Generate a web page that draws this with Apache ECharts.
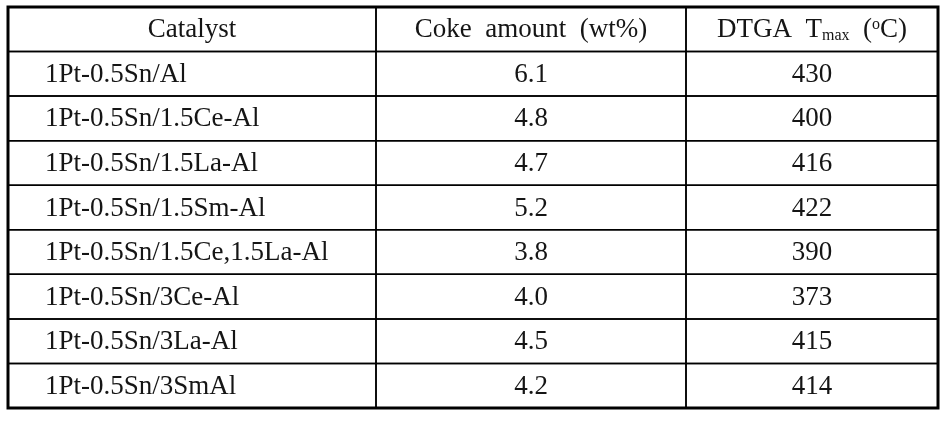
<!DOCTYPE html>
<html>
<head>
<meta charset="utf-8">
<script src="https://cdn.jsdelivr.net/npm/echarts@6/dist/echarts.min.js"></script>
<style>
html,body{margin:0;padding:0;background:#fff;}
#chart{width:952px;height:421px;}
</style>
</head>
<body>
<div id="chart"></div>
<script>
// ---- data ----
const headers = ['Catalyst', 'Coke amount (wt%)', 'DTGA Tmax (\u00B0C)'];
const catalysts = [
  '1Pt-0.5Sn/Al',
  '1Pt-0.5Sn/1.5Ce-Al',
  '1Pt-0.5Sn/1.5La-Al',
  '1Pt-0.5Sn/1.5Sm-Al',
  '1Pt-0.5Sn/1.5Ce,1.5La-Al',
  '1Pt-0.5Sn/3Ce-Al',
  '1Pt-0.5Sn/3La-Al',
  '1Pt-0.5Sn/3SmAl'
];
const cokeAmount = [6.1, 4.8, 4.7, 5.2, 3.8, 4.0, 4.5, 4.2];
const tmax = [430, 400, 416, 422, 390, 373, 415, 414];

// ---- layout ----
const colWidths = [368, 310, 252];
const FONT = '"Liberation Serif", "Times New Roman", serif';
const FS = 27;
const TEXT_COLOR = '#151515';

const colStarts = [];
colWidths.reduce((acc, w, i) => { colStarts[i] = acc; return acc + w; }, 0);
const totalW = colWidths.reduce((a, b) => a + b, 0);

const rowNames = ['header'].concat(catalysts);

const cells = [];
for (let r = 0; r < rowNames.length; r++) {
  for (let c = 0; c < 3; c++) {
    cells.push({ value: [colStarts[c], r, c] });
  }
}

function cellText(r, c) {
  if (r === 0) {
    if (c === 0) return { text: headers[0] };
    if (c === 1) return { text: 'Coke  amount  (wt%)' };
    return {
      text: 'DTGA  T{sub|max}  ({sup|o}C)',
      rich: {
        sub: { fontSize: 16, fontFamily: FONT, fill: TEXT_COLOR, verticalAlign: 'bottom', lineHeight: 14 },
        sup: { fontSize: 16, fontFamily: FONT, fill: TEXT_COLOR, verticalAlign: 'top', lineHeight: 16 }
      }
    };
  }
  const i = r - 1;
  if (c === 0) return { text: catalysts[i] };
  if (c === 1) return { text: cokeAmount[i].toFixed(1) };
  return { text: String(tmax[i]) };
}

const chart = echarts.init(document.getElementById('chart'), null, { renderer: 'canvas' });
chart.setOption({
  animation: false,
  backgroundColor: '#fff',
  grid: {
    left: 8, top: 7, width: totalW, height: 401,
    show: true, borderColor: '#000', borderWidth: 3, backgroundColor: 'transparent', z: 10
  },
  xAxis: {
    type: 'value', min: 0, max: totalW,
    axisLine: { show: false }, axisTick: { show: false }, axisLabel: { show: false }, splitLine: { show: false }
  },
  yAxis: {
    type: 'category', data: rowNames, inverse: true,
    axisLine: { show: false }, axisTick: { show: false }, axisLabel: { show: false }, splitLine: { show: false }
  },
  series: [{
    type: 'custom',
    encode: { x: 0, y: 1 },
    data: cells,
    renderItem: function (params, api) {
      const x0 = api.value(0);
      const r = api.value(1);
      const c = api.value(2);
      const p = api.coord([x0, r]);
      const w = api.size([colWidths[c], 0])[0];
      const h = api.size([0, 1])[1];
      const left = p[0], top = p[1] - h / 2;
      const t = cellText(r, c);
      const alignLeft = (r > 0 && c === 0);
      const tx = alignLeft ? left + 37 : left + w / 2;
      return {
        type: 'group',
        children: [
          {
            type: 'rect',
            shape: { x: left, y: top, width: w, height: h },
            style: { fill: 'none', stroke: '#000', lineWidth: 1.5 }
          },
          {
            type: 'text',
            style: {
              text: t.text,
              rich: t.rich,
              x: tx, y: p[1] + 1,
              align: alignLeft ? 'left' : 'center',
              verticalAlign: 'middle',
              fontFamily: FONT, fontSize: FS, fill: TEXT_COLOR
            }
          }
        ]
      };
    }
  }]
});
</script>
</body>
</html>
